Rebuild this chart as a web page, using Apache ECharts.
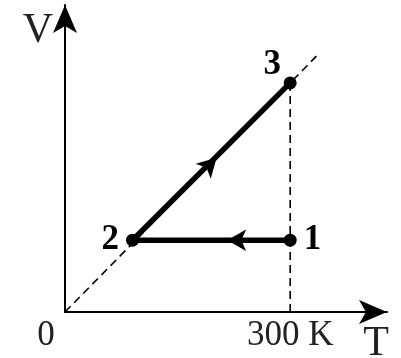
<!DOCTYPE html>
<html>
<head>
<meta charset="utf-8">
<script src="https://cdn.jsdelivr.net/npm/echarts@6/dist/echarts.min.js"></script>
<style>html,body{margin:0;padding:0;background:#fff}#c{width:401px;height:358px}</style>
</head>
<body>
<div id="c"></div>
<script>
// Data
var tickValuesT = [0, 300];
var tickLabelsT = ['0', '300 K'];
var axisNameT = 'T';
var axisNameV = 'V';
var stateNames = ['1', '2', '3'];
var stateT = [300, 90, 300];
var stateV = [94, 94, 300];
var isobarLine = [[0, 0], [335, 335]];      // dashed line through origin (V ∝ T)
var isothermLine = [[300, 0], [300, 300]];  // dashed vertical at 300 K
var arrowT = [216, 202];
var arrowV = [94, 202];

var FONT = "'Liberation Serif','Times New Roman',serif";
var chart = echarts.init(document.getElementById('c'));
var processData = [0, 1, 2].map(function (i) { return [stateT[i], stateV[i]]; });
var labelPos = [
  {position: 'right', distance: 7},
  {position: 'left', distance: 7},
  {position: 'top', distance: 0, offset: [-18, 6]}
];
var option = {
  animation: false,
  backgroundColor: '#fff',
  grid: {left: 65, right: 14, top: 5, bottom: 46, containLabel: false, outerBoundsMode: 'none'},
  xAxis: {
    type: 'value', min: 0, max: 429,
    splitLine: {show: false},
    axisTick: {show: false},
    axisLine: {lineStyle: {color: '#000', width: 2}, symbol: ['none', 'arrow'], symbolSize: [18, 28]},
    axisLabel: {
      customValues: tickValuesT,
      margin: 6,
      color: '#222', fontFamily: FONT, fontSize: 35,
      formatter: function (v) {
        var i = tickValuesT.indexOf(v);
        return i === 0 ? '{z|' + tickLabelsT[i] + '}' : tickLabelsT[i];
      },
      rich: {z: {padding: [0, 38, 0, 0], fontFamily: FONT, fontSize: 35, color: '#222'}}
    },
    name: axisNameT, nameLocation: 'end', nameGap: -11,
    nameTextStyle: {color: '#222', fontFamily: FONT, fontSize: 42, align: 'center', verticalAlign: 'top', padding: [11, 0, 0, 0]}
  },
  yAxis: {
    type: 'value', min: 0, max: 402,
    splitLine: {show: false},
    axisTick: {show: false},
    axisLabel: {show: false},
    axisLine: {lineStyle: {color: '#000', width: 2}, symbol: ['none', 'arrow'], symbolSize: [18, 28]},
    name: axisNameV, nameLocation: 'end', nameGap: -26,
    nameTextStyle: {color: '#222', fontFamily: FONT, fontSize: 42, align: 'right', verticalAlign: 'middle', padding: [0, 12, 0, 0]}
  },
  series: [
    {type: 'line', data: isobarLine, symbol: 'none', silent: true,
     lineStyle: {color: '#000', width: 1.6, type: [8, 5]}},
    {type: 'line', data: isothermLine, symbol: 'none', silent: true,
     lineStyle: {color: '#000', width: 1.6, type: [8, 5]}},
    {type: 'line', symbol: 'circle', symbolSize: 13,
     itemStyle: {color: '#000'},
     lineStyle: {color: '#000', width: 5.5},
     label: {show: true, color: '#000', fontFamily: FONT, fontSize: 35, fontWeight: 'bold',
       formatter: function (p) { return stateNames[p.dataIndex]; }}
    },
    {type: 'scatter', silent: true,
     data: [
       {value: [arrowT[0], arrowV[0]], symbolRotate: 90},
       {value: [arrowT[1], arrowV[1]], symbolRotate: -45}
     ],
     symbol: 'arrow', symbolSize: [16, 19], itemStyle: {color: '#000', opacity: 1}}
  ]
};
option.series[2].data = processData.map(function (d, i) {
  return {value: d, label: labelPos[i]};
});
chart.setOption(option);
</script>
</body>
</html>
